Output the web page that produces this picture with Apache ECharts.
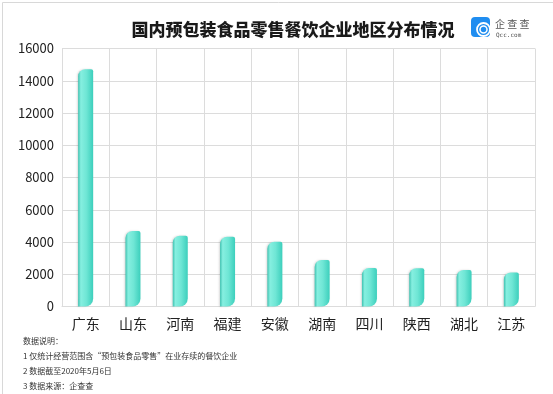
<!DOCTYPE html>
<html><head><meta charset="utf-8">
<script src="https://cdn.jsdelivr.net/npm/echarts@6/dist/echarts.min.js"></script>
<style>html,body{margin:0;padding:0;background:#fff}#c{width:553px;height:394px}</style>
</head><body><div id="c"></div>
<script>
const categories = ['广东','山东','河南','福建','安徽','湖南','四川','陕西','湖北','江苏'];
const values = [14710, 4680, 4390, 4330, 4020, 2890, 2380, 2370, 2260, 2110];
const yTicks = [0, 2000, 4000, 6000, 8000, 10000, 12000, 14000, 16000];
const titleText = '国内预包装食品零售餐饮企业地区分布情况';
const notes = ['数据说明：', '1 仅统计经营范围含“预包装食品零售”在业存续的餐饮企业', '2 数据截至2020年5月6日', '3 数据来源：企查查'];

const FONT = '"Noto Sans CJK SC", "Noto Sans", sans-serif';
const chart = echarts.init(document.getElementById('c'), null, {renderer: 'canvas'});
const noteGraphics = notes.map((t, i) => ({
  type: 'text', left: 23, top: 337 + i * 15,
  style: {text: t, fill: '#333', font: '8px ' + FONT}
}));
chart.setOption({
  backgroundColor: '#fff',
  animation: false,
  title: {
    text: titleText, left: 288, top: 16, textAlign: 'center',
    textStyle: {fontFamily: FONT, fontSize: 17, fontWeight: 900, color: '#1a1a1a'}
  },
  grid: {left: 62, right: 18, top: 48.5, bottom: 87.5, containLabel: false},
  xAxis: {
    type: 'category', data: categories, boundaryGap: true,
    axisLine: {show: true, lineStyle: {color: '#dcdcdc'}},
    axisTick: {show: false},
    splitLine: {show: true, lineStyle: {color: '#dcdcdc', width: 1}},
    axisLabel: {color: '#222', fontSize: 14, fontFamily: FONT, margin: 10, interval: 0}
  },
  yAxis: {
    type: 'value', min: yTicks[0], max: yTicks[yTicks.length - 1], interval: 2000,
    axisLine: {show: false}, axisTick: {show: false},
    splitLine: {lineStyle: {color: '#dcdcdc', width: 1}},
    axisLabel: {color: '#222', fontSize: 13, fontFamily: FONT, margin: 8, formatter: v => String(v)}
  },
  series: [{
    type: 'bar', data: values, barWidth: 15,
    itemStyle: {
      borderRadius: [7, 2, 8, 0],
      color: new echarts.graphic.LinearGradient(0, 0, 1, 0, [
        {offset: 0, color: '#3fc2b1'},
        {offset: 0.18, color: '#86efe0'},
        {offset: 0.55, color: '#6fe6d5'},
        {offset: 1, color: '#3ccfbc'}
      ]),
      shadowColor: 'rgba(0,0,0,0.15)', shadowBlur: 2, shadowOffsetX: -1
    }
  }],
  graphic: [
    {type: 'rect', left: 0, top: 0, shape: {x: 0.5, y: 0.5, width: 552, height: 393},
     style: {fill: 'none', stroke: '#d8d8d8', lineWidth: 1}, silent: true, z: -1},
    {type: 'rect', left: 471, top: 17, shape: {width: 19, height: 20, r: 4}, style: {fill: '#1f8df0'}},
    {type: 'circle', left: 474.5, top: 20.5, shape: {r: 6.5}, style: {fill: 'none', stroke: '#fff', lineWidth: 1.8}},
    {type: 'circle', left: 477.5, top: 23.5, shape: {r: 3.5}, style: {fill: 'none', stroke: '#fff', lineWidth: 1.5}},
    {type: 'text', left: 495, top: 19, style: {text: '企 查 查', fill: '#555', font: '10px ' + FONT}},
    {type: 'text', left: 496, top: 32, style: {text: 'Qcc.com', fill: '#555', font: '6px "DejaVu Sans Mono", monospace'}},
    ...noteGraphics
  ]
});
</script></body></html>
